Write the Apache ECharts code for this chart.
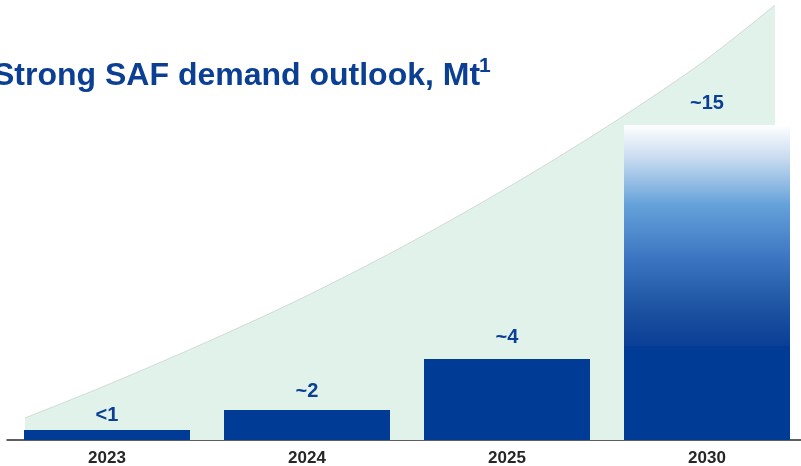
<!DOCTYPE html>
<html>
<head>
<meta charset="utf-8">
<script src="https://cdn.jsdelivr.net/npm/echarts@6/dist/echarts.min.js"></script>
<style>
  html, body { margin: 0; padding: 0; background: #fff; }
  #chart { width: 801px; height: 466px; }
</style>
</head>
<body>
<div id="chart"></div>
<script>
  // categories and bar values (Mt)
  var years = ['2023', '2024', '2025', '2030'];
  var baseValues = [0.48, 1.43, 3.86, 4.48];
  var topValues = [null, null, null, 10.52];   // 2030 outlook part, stacked on the base
  var barLabels = ['<1', '~2', '~4', '~15'];

  // background demand curve, x in category units (0..4), y in Mt
  var curveX = [0.09, 0.465, 0.965, 1.465, 1.965, 2.465, 2.965, 3.465, 3.84];
  var curveY = [1.05, 2.48, 4.52, 6.71, 9.14, 11.81, 14.71, 17.9, 20.71];

  var blue = '#003b95';
  var labelBlue = '#0b3f93';
  var font = '"Liberation Sans", Arial, sans-serif';

  var chart = echarts.init(document.getElementById('chart'));

  var labelGap = [4, 8, 11, 12];

  var option = {
    animation: false,
    grid: { left: 7, width: 800, top: -1, bottom: 26, outerBoundsMode: 'none' },
    graphic: [
      {
        type: 'text', x: -7, y: 60,
        style: {
          text: 'Strong SAF demand outlook, Mt',
          font: 'bold 32px ' + font,
          fill: '#0b3f93'
        }
      },
      {
        type: 'text', x: 479, y: 56,
        style: {
          text: '1',
          font: 'bold 21px ' + font,
          fill: '#0b3f93'
        }
      }
    ],
    xAxis: [
      {
        type: 'category',
        data: years,
        axisTick: { show: false },
        axisLine: { lineStyle: { color: '#2a2a2a', width: 1.5 } },
        axisLabel: {
          margin: 10,
          color: '#262626',
          fontSize: 17,
          fontWeight: 'bold',
          fontFamily: font
        }
      },
      { type: 'value', min: 0, max: 4, show: false }
    ],
    yAxis: {
      type: 'value', min: 0, max: 21, show: false,
      splitLine: { show: false }
    },
    series: [
      {
        type: 'line',
        xAxisIndex: 1,
        z: 1,
        smooth: 0.3,
        symbol: 'none',
        data: curveX.map(function (x, i) { return [x, curveY[i]]; }),
        lineStyle: { color: '#cad3ce', width: 0.8 },
        areaStyle: { color: '#e0f2ea', opacity: 1 }
      },
      {
        type: 'bar',
        stack: 'demand',
        z: 3,
        barWidth: 166,
        data: baseValues.map(function (v, i) {
          return {
            value: v,
            label: { show: i < 3, distance: labelGap[i] }
          };
        }),
        itemStyle: { color: blue },
        label: {
          position: 'top',
          color: labelBlue,
          fontSize: 20,
          fontWeight: 'bold',
          fontFamily: font,
          formatter: function (p) { return barLabels[p.dataIndex]; }
        }
      },
      {
        type: 'bar',
        stack: 'demand',
        z: 3,
        data: topValues,
        itemStyle: {
          color: new echarts.graphic.LinearGradient(0, 0, 0, 1, [
            { offset: 0, color: '#ffffff' },
            { offset: 0.15, color: '#c8dbf0' },
            { offset: 0.36, color: '#65a2da' },
            { offset: 0.6, color: '#3c76c2' },
            { offset: 0.85, color: '#1a509f' },
            { offset: 1, color: '#0b3f97' }
          ])
        },
        label: {
          show: true,
          position: 'top',
          distance: labelGap[3],
          color: labelBlue,
          fontSize: 20,
          fontWeight: 'bold',
          fontFamily: font,
          formatter: function (p) { return barLabels[p.dataIndex]; }
        }
      }
    ]
  };

  chart.setOption(option);
  window.addEventListener('resize', function () {
    chart.resize();
  });
</script>
</body>
</html>
